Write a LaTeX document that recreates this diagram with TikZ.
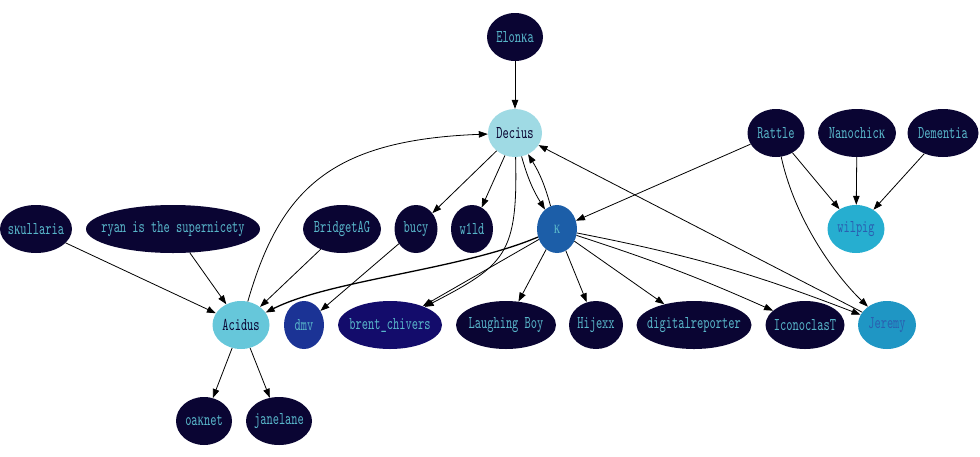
\documentclass[tikz,border=0pt]{standalone}
\usepackage{fontspec}
\usetikzlibrary{shapes.geometric,arrows.meta}
\newfontfamily\nodefont{lmmono10-regular}[Extension=.otf, FakeStretch=0.66]
\newfontfamily\krafont[FakeStretch=0.7]{Liberation Serif}
\newcommand\uname[1]{\makebox[0pt]{#1}}
\newcommand\kra{{\krafont ĸ}}
\definecolor{navy}{HTML}{0A0533}
\definecolor{cyantext}{HTML}{58B6CA}
\definecolor{deciusfill}{HTML}{9FDAE4}
\definecolor{acidusfill}{HTML}{66C7DA}
\definecolor{kfill}{HTML}{1C5EA8}
\definecolor{dmvfill}{HTML}{1B3395}
\definecolor{brentfill}{HTML}{130C6B}
\definecolor{wilpigfill}{HTML}{26AED0}
\definecolor{jeremyfill}{HTML}{1F96C4}
\definecolor{bluetext}{HTML}{2A5FB0}
\begin{document}
\begin{tikzpicture}[x=1pt, y=-1pt,
    user/.style={ellipse, fill=navy, text=cyantext, inner sep=0pt, minimum height=48pt, font=\nodefont\fontsize{18}{18}\selectfont},
    edge/.style={-{Triangle[length=9pt,width=6.5pt]}, line width=0.8pt}]
      \useasboundingbox (0,0) rectangle (980,456);

      % top rows
      \node[user, minimum width=56pt] (Elonka) at (515,37) {\uname{Elon\kra a}};
      \node[user, minimum width=54pt, fill=deciusfill, text=navy] (Decius) at (515,133) {\uname{Decius}};
      \node[user, minimum width=57pt] (Rattle) at (776,133) {\uname{Rattle}};
      \node[user, minimum width=78pt] (Nanochick) at (857,133) {\uname{Nanochic\kra}};
      \node[user, minimum width=71pt] (Dementia) at (943,133) {\uname{Dementia}};

      \node[user, minimum width=72pt] (skullaria) at (36,229) {\uname{s\kra ullaria}};
      \node[user, minimum width=174pt] (ryan) at (173,229) {\uname{ryan is the supernicety}};
      \node[user, minimum width=78pt] (BridgetAG) at (342,229) {\uname{BridgetAG}};
      \node[user, minimum width=43pt] (bucy) at (416,229) {\uname{bucy}};
      \node[user, minimum width=42pt] (w1ld) at (472,229) {\uname{w1ld}};
      \node[user, minimum width=40pt, fill=kfill] (k) at (557,229) {\uname{\kra}};
      \node[user, minimum width=57pt, fill=wilpigfill, text=bluetext] (wilpig) at (856,229) {\uname{wilpig}};

      % bottom rows
      \node[user, minimum width=57pt, fill=acidusfill, text=navy] (Acidus) at (241,325) {\uname{Acidus}};
      \node[user, minimum width=40pt, fill=dmvfill] (dmv) at (304,325) {\uname{dmv}};
      \node[user, minimum width=104pt, fill=brentfill] (brent) at (390,325) {\uname{brent\_chivers}};
      \node[user, minimum width=100pt] (LaughingBoy) at (506,325) {\uname{Laughing Boy}};
      \node[user, minimum width=54pt] (Hijexx) at (596,325) {\uname{Hijexx}};
      \node[user, minimum width=115pt] (digitalreporter) at (694,325) {\uname{digitalreporter}};
      \node[user, minimum width=79pt] (IconoclasT) at (805,325) {\uname{IconoclasT}};
      \node[user, minimum width=58pt, fill=jeremyfill, text=bluetext] (Jeremy) at (887,325) {\uname{Jeremy}};

      \node[user, minimum width=56pt] (oaknet) at (204,421) {\uname{oa\kra net}};
      \node[user, minimum width=66pt] (janelane) at (279,421) {\uname{janelane}};

      % edges
      \draw[edge] (Elonka) -- (Decius);
      \draw[edge] (Decius) -- (bucy);
      \draw[edge] (Decius) -- (w1ld);
      \draw[edge] (Decius) to[bend right=8] (k);
      \draw[edge] (k) to[bend right=8] (Decius);
      \draw[edge] (Decius) .. controls (518,255) and (505,265) .. (brent);
      \draw[edge] (Acidus) .. controls (280,190) and (330,140) .. (Decius);
      \draw[edge] (Jeremy) -- (Decius);

      \draw[edge] (Rattle) -- (k);
      \draw[edge] (Rattle) -- (wilpig);
      \draw[edge] (Rattle) .. controls (795,220) and (835,275) .. (Jeremy);
      \draw[edge] (Nanochick) -- (wilpig);
      \draw[edge] (Dementia) -- (wilpig);

      \draw[edge] (skullaria) -- (Acidus);
      \draw[edge] (ryan) -- (Acidus);
      \draw[edge] (BridgetAG) -- (Acidus);
      \draw[edge, line width=1.3pt] (k) .. controls (460,270) and (330,280) .. (Acidus);
      \draw[edge] (bucy) -- (dmv);

      \draw[edge] (k) -- (brent);
      \draw[edge] (k) -- (LaughingBoy);
      \draw[edge] (k) -- (Hijexx);
      \draw[edge] (k) -- (digitalreporter);
      \draw[edge] (k) to[bend left=3] (IconoclasT);
      \draw[edge] (k) to[bend left=5] (Jeremy);

      \draw[edge] (Acidus) -- (oaknet);
      \draw[edge] (Acidus) -- (janelane);
    \end{tikzpicture}
\end{document}
